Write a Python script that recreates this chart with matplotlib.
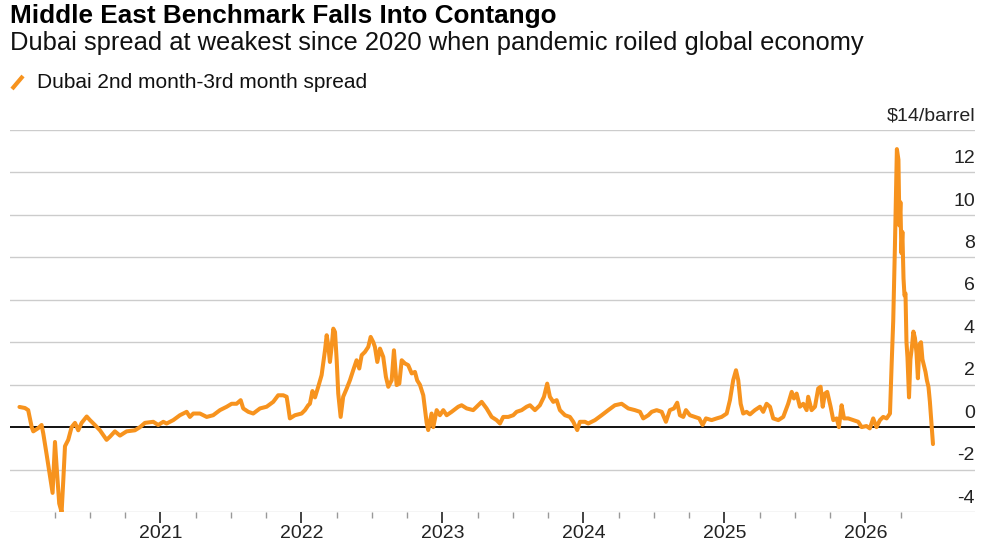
import matplotlib
matplotlib.use("Agg")
import matplotlib.pyplot as plt
import matplotlib.transforms as mtransforms
import numpy as np

plt.rcParams['font.family'] = ['Liberation Sans', 'DejaVu Sans']

title = "Middle East Benchmark Falls Into Contango"
subtitle = "Dubai spread at weakest since 2020 when pandemic roiled global economy"
series_name = "Dubai 2nd month-3rd month spread"
unit_label = "$14/barrel"

# decimal year
dates = [
    2020.000, 2020.039, 2020.062, 2020.087, 2020.098, 2020.133, 2020.157, 2020.169,
    2020.193, 2020.216, 2020.235, 2020.252, 2020.264, 2020.282, 2020.299, 2020.311,
    2020.323, 2020.346, 2020.370, 2020.394, 2020.417, 2020.441, 2020.477, 2020.500,
    2020.535, 2020.571, 2020.618, 2020.642, 2020.677, 2020.713, 2020.760, 2020.819,
    2020.855, 2020.890, 2020.949, 2020.984,
    2021.020, 2021.044, 2021.091, 2021.138, 2021.186, 2021.209, 2021.233, 2021.280,
    2021.328, 2021.374, 2021.422, 2021.470, 2021.505, 2021.540, 2021.569, 2021.587,
    2021.623, 2021.658, 2021.706, 2021.753, 2021.800, 2021.835, 2021.871, 2021.895,
    2021.906, 2021.918, 2021.954,
    2022.001, 2022.025, 2022.048, 2022.060, 2022.078, 2022.096, 2022.119, 2022.143,
    2022.167, 2022.179, 2022.190, 2022.202, 2022.214, 2022.226, 2022.238, 2022.250,
    2022.261, 2022.278, 2022.296, 2022.321, 2022.344, 2022.367, 2022.391, 2022.410,
    2022.427, 2022.450, 2022.474, 2022.491, 2022.509, 2022.521, 2022.538, 2022.557,
    2022.580, 2022.599, 2022.616, 2022.640, 2022.656, 2022.675, 2022.694, 2022.711,
    2022.734, 2022.757, 2022.782, 2022.805, 2022.821, 2022.840, 2022.864, 2022.888,
    2022.899, 2022.923, 2022.935, 2022.959, 2022.982,
    2023.006, 2023.030, 2023.065, 2023.112, 2023.136, 2023.172, 2023.218, 2023.243,
    2023.278, 2023.313, 2023.349, 2023.384, 2023.408, 2023.431, 2023.467, 2023.502,
    2023.526, 2023.562, 2023.597, 2023.621, 2023.656, 2023.691, 2023.720, 2023.743,
    2023.762, 2023.786, 2023.810, 2023.833, 2023.869, 2023.904, 2023.928, 2023.956,
    2023.975,
    2024.011, 2024.034, 2024.082, 2024.129, 2024.176, 2024.223, 2024.271, 2024.318,
    2024.365, 2024.401, 2024.424, 2024.460, 2024.484, 2024.519, 2024.555, 2024.585,
    2024.613, 2024.642, 2024.665, 2024.684, 2024.708, 2024.727, 2024.755, 2024.791,
    2024.821, 2024.845, 2024.869, 2024.909, 2024.945, 2024.980,
    2025.016, 2025.039, 2025.062, 2025.082, 2025.098, 2025.115, 2025.133, 2025.157,
    2025.181, 2025.216, 2025.252, 2025.275, 2025.299, 2025.323, 2025.346, 2025.382,
    2025.417, 2025.452, 2025.477, 2025.493, 2025.512, 2025.535, 2025.559, 2025.583,
    2025.594, 2025.618, 2025.642, 2025.665, 2025.682, 2025.697, 2025.713, 2025.729,
    2025.753, 2025.772, 2025.796, 2025.812, 2025.831, 2025.848, 2025.878, 2025.913,
    2025.949, 2025.973,
    2026.007, 2026.031, 2026.055, 2026.078, 2026.103, 2026.126, 2026.150, 2026.174,
    2026.186, 2026.197, 2026.209, 2026.223, 2026.234, 2026.241, 2026.248, 2026.255,
    2026.262, 2026.270, 2026.277, 2026.284, 2026.291, 2026.298, 2026.309, 2026.319,
    2026.330, 2026.340, 2026.351, 2026.362, 2026.372, 2026.383, 2026.394, 2026.404,
    2026.415, 2026.426, 2026.436, 2026.447, 2026.457, 2026.468, 2026.479,
]

spread = [
    0.95, 0.90, 0.80, 0.00, -0.20, -0.05, 0.10, -0.30,
    -1.30, -2.30, -3.10, -0.70, -1.90, -3.60, -4.00, -2.50,
    -0.90, -0.60, 0.00, 0.20, -0.15, 0.20, 0.50, 0.33,
    0.10, -0.15, -0.60, -0.45, -0.20, -0.40, -0.20, -0.15,
    0.00, 0.20, 0.25, 0.10,
    0.25, 0.17, 0.33, 0.56, 0.72, 0.48, 0.64, 0.64,
    0.48, 0.56, 0.80, 0.96, 1.10, 1.10, 1.27, 0.88,
    0.72, 0.64, 0.88, 0.96, 1.19, 1.50, 1.50, 1.43,
    0.96, 0.41, 0.56,
    0.64, 0.80, 1.03, 1.10, 1.70, 1.40, 1.90, 2.45,
    3.62, 4.33, 3.86, 3.07, 3.78, 4.64, 4.48, 3.15,
    1.58, 0.48, 1.43, 1.82, 2.21, 2.68, 3.15, 2.76,
    3.39, 3.54, 3.78, 4.25, 4.01, 3.78, 3.07, 3.70,
    3.31, 2.37, 1.90, 2.21, 3.62, 1.98, 2.05, 3.15,
    3.00, 2.92, 2.53, 2.60, 2.20, 2.00, 1.50, 0.20,
    -0.14, 0.64, 0.00, 0.80, 0.56,
    0.80, 0.56, 0.72, 0.96, 1.03, 0.88, 0.80, 0.96,
    1.19, 0.88, 0.48, 0.33, 0.17, 0.48, 0.48, 0.56,
    0.72, 0.80, 0.96, 1.03, 0.80, 1.03, 1.43, 2.05,
    1.43, 1.19, 1.27, 0.80, 0.56, 0.48, 0.25, -0.14,
    0.25,
    0.25, 0.17, 0.33, 0.56, 0.80, 1.03, 1.10, 0.88,
    0.80, 0.72, 0.41, 0.56, 0.72, 0.80, 0.72, 0.25,
    0.80, 0.88, 1.15, 0.56, 0.48, 0.80, 0.56, 0.48,
    0.41, 0.10, 0.41, 0.33, 0.41, 0.48,
    0.64, 1.27, 2.21, 2.68, 2.21, 1.10, 0.64, 0.72,
    0.60, 0.80, 0.96, 0.72, 1.10, 0.96, 0.41, 0.33,
    0.48, 1.10, 1.66, 1.35, 1.58, 0.96, 1.10, 0.80,
    1.43, 0.80, 0.96, 1.82, 1.90, 0.96, 1.58, 1.66,
    0.96, 0.33, 0.41, 0.00, 1.03, 0.41, 0.41, 0.33,
    0.25, 0.00,
    0.05, -0.06, 0.41, 0.00, 0.33, 0.48, 0.41, 0.64,
    3.00, 5.00, 8.50, 13.10, 12.60, 9.50, 10.60, 8.20,
    9.20, 7.00, 6.20, 6.30, 4.00, 3.30, 1.40, 3.20,
    3.80, 4.50, 4.20, 3.50, 2.30, 3.90, 4.00, 3.20,
    2.90, 2.60, 2.20, 1.90, 1.20, 0.20, -0.80,
]

year_ticks = [2021, 2022, 2023, 2024, 2025, 2026]
year_labels = ["2021", "2022", "2023", "2024", "2025", "2026"]
quarter_ticks = [y + q for y in range(2020, 2027) for q in (0.25, 0.5, 0.75)
                 if y + q <= 2026.3]
y_ticks = [-4, -2, 0, 2, 4, 6, 8, 10, 12, 14]
y_labels = ["-4", "-2", "0", "2", "4", "6", "8", "10", "12", unit_label]

orange = "#F7931E"

fig = plt.figure(figsize=(10, 5.45), dpi=100)
ax = fig.add_axes([0.010, 1 - 512 / 545, 0.965, (512 - 130) / 545])

ax.plot(dates, spread, color=orange, lw=2.9, solid_joinstyle='round',
        solid_capstyle='round', zorder=3)
ax.axhline(0, color="#111111", lw=1.4, zorder=2)

ax.set_xlim(2019.933, 2026.777)
ax.set_ylim(-4, 14)

for yv in y_ticks:
    if yv != 0:
        ax.axhline(yv, color="#cccccc", lw=1.0, zorder=1)

for s in ax.spines.values():
    s.set_visible(False)

ax.set_yticks([])
ax.set_xticks(year_ticks)
ax.set_xticklabels(year_labels, fontsize=14, color="#222222")
ax.set_xticks(quarter_ticks, minor=True)
ax.tick_params(axis='x', which='major', length=8, width=1.2, color="#222222", pad=1)
ax.tick_params(axis='x', which='minor', length=4, width=1.0, color="#999999")

offset = mtransforms.ScaledTranslation(0, 10 / 72, fig.dpi_scale_trans)
trans = mtransforms.blended_transform_factory(ax.transAxes, ax.transData) + offset
for yv, lab in zip(y_ticks, y_labels):
    ax.text(1.0, yv, lab, transform=trans, ha='right', va='center',
            fontsize=14, color="#222222")

fig.text(0.010, 1 - 16 / 545, title, fontsize=18.8, fontweight='bold',
         va='center', ha='left', color="#000000")
fig.text(0.010, 1 - 43 / 545, subtitle, fontsize=18.4, va='center',
         ha='left', color="#111111")

# legend
fig.lines.append(plt.Line2D([0.012, 0.023], [1 - 89 / 545, 1 - 76 / 545],
                            transform=fig.transFigure, color=orange, lw=3,
                            solid_capstyle='butt'))
fig.text(0.037, 1 - 82 / 545, series_name, fontsize=15, va='center',
         ha='left', color="#111111")

fig.savefig("out.png", dpi=100)
